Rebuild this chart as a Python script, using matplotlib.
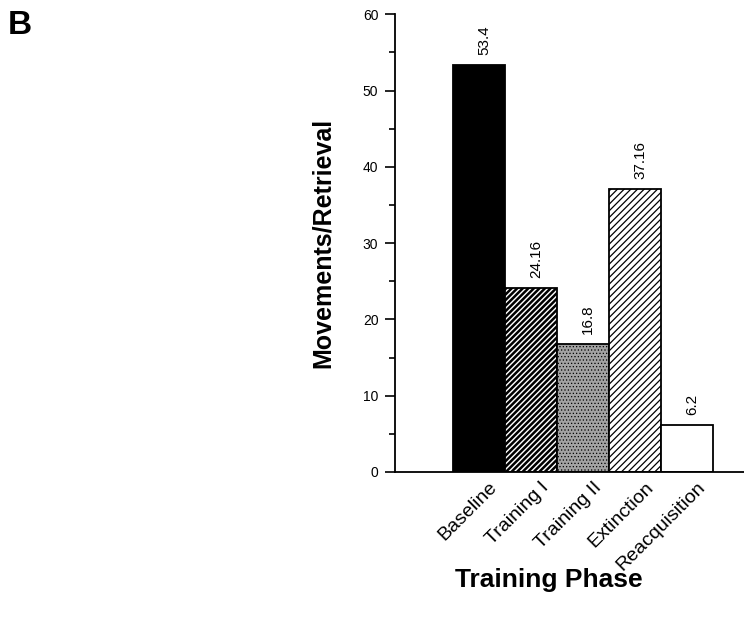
import numpy as np
import matplotlib.pyplot as plt
from matplotlib.ticker import MultipleLocator
from matplotlib.transforms import ScaledTranslation

plt.rcParams['font.family'] = ['Liberation Sans', 'DejaVu Sans']

phases = ['Baseline', 'Training I', 'Training II', 'Extinction', 'Reacquisition']
values = [53.4, 24.16, 16.8, 37.16, 6.2]
labels = ['53.4', '24.16', '16.8', '37.16', '6.2']

faces = ['black', 'white', '#a2a2a2', 'white', 'white']
hatches = [None, '//////', '.....', '/////', None]
hatch_widths = [1.0, 1.8, 0.5, 0.9, 1.0]

fig = plt.figure(figsize=(7.44, 6.21), dpi=100)
ax = fig.add_axes([0.531, 0.240, 0.469, 0.737])

x = np.arange(len(phases))
bars = ax.bar(x, values, width=1.0, color=faces, edgecolor='black', linewidth=1.3)
for b, h, lw in zip(bars, hatches, hatch_widths):
    if h:
        b.set_hatch(h)
        if hasattr(b, 'set_hatch_linewidth'):
            b.set_hatch_linewidth(lw)

for xi, v, s in zip(x, values, labels):
    ax.text(xi + 0.1, v + 1.3, s, rotation=90, ha='center', va='bottom', fontsize=11)

ax.set_xlim(-1.615, 5.1)
ax.set_ylim(0, 60)
ax.yaxis.set_major_locator(MultipleLocator(10))
ax.yaxis.set_minor_locator(MultipleLocator(5))
ax.tick_params(axis='y', which='major', length=7, width=1.2, labelsize=10, direction='out', pad=5)
ax.tick_params(axis='y', which='minor', length=4, width=1.2, direction='out')
ax.set_xticks(x)
ax.set_xticklabels(phases, rotation=45, ha='right', rotation_mode='anchor', fontsize=14)
ax.tick_params(axis='x', length=0, pad=5)
shift = ScaledTranslation(7 / 72, 0, fig.dpi_scale_trans)
for lab in ax.get_xticklabels():
    lab.set_transform(lab.get_transform() + shift)

ax.spines['top'].set_visible(False)
ax.spines['right'].set_visible(False)
ax.spines['left'].set_linewidth(1.3)
ax.spines['bottom'].set_linewidth(1.3)

ax.set_ylabel('Movements/Retrieval', fontsize=18, fontweight='bold', labelpad=20)
ax.set_xlabel('Training Phase', fontsize=19, fontweight='bold')
ax.xaxis.set_label_coords(0.441, -0.237)
ax.xaxis.label.set_va('center')

fig.text(0.010, 0.984, 'B', fontsize=24, fontweight='bold', va='top')

fig.savefig('out.png', dpi=100)
